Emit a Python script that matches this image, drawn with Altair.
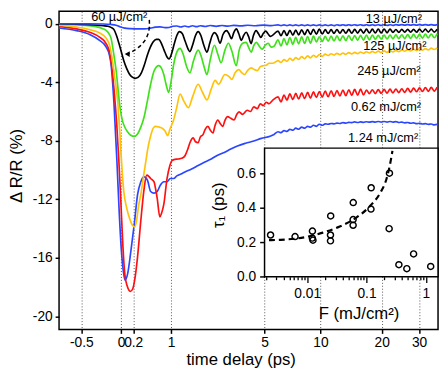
import math
import altair as alt
import pandas as pd

# ---------------- main panel: time delay (ps) and dR/R (%) ----------------
# early part of each trace
BLUE1_T = [-0.703, -0.249, -0.144, -0.075, -0.017, 0.060, 0.157, 0.277, 0.406, 0.525, 0.629, 0.738, 0.853, 0.950,
           1.050, 1.154, 1.263, 1.376, 1.493, 1.616, 1.744, 1.876, 2.050, 2.232, 2.464, 2.710, 2.971, 3.248,
           3.593, 3.964, 4.421, 4.915, 5.451]
BLUE1_V = [0, -0.013, -0.047, -0.1, -0.2, -0.3, -0.333, -0.347, -0.347, -0.3, -0.233, -0.213, -0.267, -0.253,
           -0.167, -0.153, -0.22, -0.153, -0.213, -0.133, -0.2, -0.133, -0.187, -0.12, -0.173, -0.12, -0.16, -0.107,
           -0.147, -0.1, -0.133, -0.093, -0.127]

BLACK_T = [-0.703, -0.413, -0.249, -0.185, -0.144, -0.103, -0.067, -0.031, 0.006, 0.044, 0.091, 0.140, 0.190, 0.233,
           0.286, 0.350, 0.406, 0.465, 0.525, 0.586, 0.650, 0.705, 0.761, 0.830, 0.901, 0.950, 1.012, 1.089, 1.154,
           1.227, 1.305, 1.390, 1.478, 1.533, 1.616, 1.711, 1.799, 1.893, 1.997, 2.111, 2.214, 2.308, 2.397, 2.504,
           2.626, 2.752, 2.913, 3.016, 3.140, 3.248, 3.379, 3.493, 3.630, 3.749, 3.893, 4.019, 4.170, 4.303, 4.462,
           4.602, 4.756, 4.915, 5.078, 5.245, 5.416]
BLACK_V = [0, -0.067, -0.133, -0.167, -0.247, -0.4, -0.8, -1.333, -1.933, -2.533, -3.067, -3.467, -3.667, -3.733,
           -3.667, -3.333, -2.8, -2.133, -1.6, -1.233, -1.067, -1.067, -1.3, -1.8, -2.267, -2.4, -2.067, -1.333, -0.8,
           -0.533, -0.667, -1.2, -1.733, -1.9, -1.467, -0.8, -0.533, -0.8, -1.467, -1.933, -1.333, -0.8, -0.6, -0.8,
           -1.333, -0.733, -0.467, -0.667, -1.02, -0.6, -0.353, -0.667, -1.133, -0.8, -0.58, -0.867, -1.353, -0.8,
           -0.467, -0.667, -0.933, -0.667, -0.5, -0.7, -0.867]

GREEN_T = [-0.703, -0.546, -0.372, -0.253, -0.189, -0.144, -0.113, -0.071, -0.021, 0.014, 0.055, 0.107, 0.157, 0.219,
           0.277, 0.337, 0.401, 0.465, 0.531, 0.607, 0.709, 0.761, 0.823, 0.877, 0.942, 0.999, 1.068, 1.154, 1.243,
           1.319, 1.434, 1.533, 1.647, 1.799, 1.911, 2.015, 2.111, 2.232, 2.397, 2.544, 2.668, 2.839, 2.994, 3.154,
           3.369, 3.518, 3.697, 3.893, 4.019, 4.170, 4.332, 4.480, 4.663, 4.851, 5.045, 5.245, 5.451, 5.663]
GREEN_V = [-0.013, -0.08, -0.167, -0.333, -0.567, -1.0, -1.867, -3.247, -5.467, -6.467, -7.02, -7.4, -7.62, -7.7,
           -7.533, -7.067, -6.353, -5.267, -4.133, -3.2, -2.867, -3.0, -3.467, -4.133, -4.687, -4.0, -2.8, -1.933,
           -1.687, -2.0, -2.933, -3.353, -2.533, -1.8, -2.267, -3.0, -3.467, -2.467, -1.467, -2.133, -2.667, -1.8,
           -1.333, -1.867, -2.867, -1.8, -1.333, -1.267, -1.6, -1.933, -1.467, -1.267, -1.533, -1.733, -1.467,
           -1.333, -1.6, -1.533]

YELLOW_T = [-0.703, -0.546, -0.410, -0.295, -0.211, -0.158, -0.131, -0.089, -0.046, -0.017, 0.014, 0.044, 0.091,
            0.140, 0.190, 0.224, 0.259, 0.295, 0.337, 0.387, 0.431, 0.484, 0.531, 0.586, 0.635, 0.716, 0.783, 0.853,
            0.918, 0.974, 1.068, 1.154, 1.243, 1.347, 1.485, 1.616, 1.799, 1.945, 2.111, 2.270, 2.425, 2.565, 2.839,
            3.016, 3.154, 3.320, 3.493, 3.645, 3.802, 3.964, 4.170, 4.361, 4.541, 4.725, 4.915, 5.111, 5.313, 5.592]
YELLOW_V = [-0.087, -0.22, -0.4, -0.62, -0.98, -1.58, -2.333, -3.8, -5.467, -7.467, -9.8, -11.467, -12.6, -13.333,
            -13.8, -13.9, -13.467, -12.467, -11.667, -10.467, -9.467, -8.333, -7.667, -7.133, -7.02, -7.067, -7.133,
            -7.333, -7.647, -7.2, -6.58, -5.687, -4.8, -5.267, -5.733, -5.0, -4.133, -4.667, -5.2, -4.467, -3.867,
            -4.133, -3.467, -3.6, -3.8, -3.333, -3.133, -3.333, -3.467, -3.2, -3.02, -3.133, -3.2, -2.933, -2.867,
            -2.833, -2.7, -2.7]

RED_T = [-0.703, -0.546, -0.410, -0.295, -0.211, -0.167, -0.144, -0.103, -0.060, -0.031, -0.002, 0.029, 0.060, 0.099,
         0.152, 0.190, 0.233, 0.277, 0.337, 0.401, 0.451, 0.494, 0.531, 0.601, 0.639, 0.672, 0.731, 0.772, 0.823,
         0.901, 0.974, 1.024, 1.101, 1.200, 1.291, 1.385, 1.464, 1.533, 1.638, 1.711, 1.799, 1.876, 1.969, 2.050,
         2.148, 2.232, 2.335, 2.425, 2.532, 2.626, 2.740, 2.839, 2.958, 3.107, 3.263, 3.393, 3.508, 3.697, 3.947,
         4.131, 4.321, 4.541, 4.725, 4.915, 5.111, 5.313, 5.592]
RED_V = [-0.18, -0.353, -0.58, -0.913, -1.353, -1.913, -2.58, -4.467, -7.133, -9.467, -12.133, -15.133, -17.133,
         -17.933, -18.3, -18.133, -17.333, -15.933, -13.467, -11.247, -10.353, -10.433, -10.58, -10.8, -11.333,
         -11.933, -13.2, -12.933, -12.353, -10.58, -9.667, -9.353, -9.267, -9.247, -9.2, -9.02, -8.6, -8.133, -7.8,
         -8.067, -8.133, -7.733, -7.58, -7.2, -7.02, -7.267, -7.467, -6.933, -6.58, -6.8, -7.02, -6.6, -6.353,
         -6.467, -6.58, -6.2, -6.02, -6.2, -5.913, -6.0, -5.687, -5.8, -5.467, -5.6, -5.367, -5.467, -5.2]

BLUE2_T = [-0.703, -0.546, -0.410, -0.295, -0.211, -0.167, -0.144, -0.103, -0.060, -0.024, 0.006, 0.037, 0.065,
           0.107, 0.162, 0.219, 0.277, 0.337, 0.401, 0.465, 0.531, 0.601, 0.672, 0.745, 0.823, 0.901, 0.982, 1.068,
           1.154, 1.291, 1.385, 1.585, 1.799, 2.015, 2.270, 2.504, 2.808, 3.107, 3.428, 3.856, 4.321, 4.788, 5.382,
           5.663]
BLUE2_V = [-0.287, -0.467, -0.733, -1.133, -1.58, -2.133, -2.8, -5.467, -9.467, -13.133, -15.467, -16.933, -17.533,
           -17.067, -15.467, -13.687, -11.687, -10.8, -10.467, -10.687, -11.467, -11.58, -11.467, -11.02, -10.8,
           -10.8, -10.58, -10.58, -10.4, -10.247, -10.133, -9.933, -9.687, -9.467, -9.247, -9.0, -8.8, -8.567,
           -8.353, -8.167, -8.02, -7.833, -7.687, -7.567]

# late part (t > 6 ps): shared time samples, values with the fast oscillation
T_LATE = [5.96, 6.19, 6.43, 6.67, 6.92, 7.18, 7.44, 7.71, 8.0, 8.29, 8.59, 8.89, 9.21, 9.54, 9.87, 10.22, 10.58,
          10.95, 11.33, 11.72, 12.12, 12.54, 12.97, 13.41, 13.87, 14.34, 14.82, 15.32, 15.83, 16.36, 16.91, 17.47,
          18.05, 18.65, 19.26, 19.9, 20.55, 21.22, 21.92, 22.63, 23.37, 24.13, 24.91, 25.72, 26.55, 27.41, 28.29,
          29.2, 30.14, 31.1, 32.1, 33.13, 34.18, 35.27, 36.4]
BLUE1_LATE = [-0.075, -0.125, -0.075, -0.125, -0.075, -0.125, -0.075, -0.125, -0.075, -0.125,
              -0.075, -0.125, -0.075, -0.125, -0.075, -0.125, -0.075, -0.125, -0.075, -0.125,
              -0.065, -0.115, -0.065, -0.115, -0.065, -0.115, -0.065, -0.115, -0.065, -0.115,
              -0.065, -0.115, -0.065, -0.115, -0.065, -0.115, -0.065, -0.115, -0.065, -0.115,
              -0.055, -0.095, -0.055, -0.095, -0.055, -0.095, -0.055, -0.095, -0.055, -0.095,
              -0.055, -0.095, -0.055, -0.095, -0.055]
BLACK_LATE = [-0.50, -0.82, -0.47, -0.80, -0.45, -0.78, -0.43, -0.76, -0.41, -0.74,
              -0.40, -0.73, -0.38, -0.71, -0.37, -0.70, -0.40, -0.66, -0.40, -0.66,
              -0.39, -0.65, -0.39, -0.65, -0.38, -0.65, -0.38, -0.64, -0.38, -0.64,
              -0.37, -0.63, -0.37, -0.63, -0.36, -0.63, -0.36, -0.62, -0.36, -0.59,
              -0.39, -0.59, -0.38, -0.58, -0.38, -0.58, -0.38, -0.58, -0.37, -0.57,
              -0.37, -0.57, -0.37, -0.57, -0.37]
GREEN_LATE = [-1.10, -1.52, -1.02, -1.44, -0.95, -1.40, -0.93, -1.37, -0.90, -1.34,
              -0.87, -1.32, -0.85, -1.24, -0.89, -1.21, -0.86, -1.19, -0.85, -1.18,
              -0.83, -1.16, -0.82, -1.15, -0.81, -1.14, -0.80, -1.13, -0.79, -1.12,
              -0.78, -1.11, -0.77, -1.06, -0.79, -1.05, -0.78, -1.04, -0.77, -1.03,
              -0.76, -1.02, -0.75, -1.01, -0.74, -1.0, -0.73, -0.99, -0.72, -0.98,
              -0.71, -0.97, -0.70, -0.95, -0.67]
YELLOW_LATE = [-2.52, -2.645, -2.45, -2.57, -2.37, -2.50, -2.31, -2.44, -2.25, -2.39,
               -2.20, -2.33, -2.15, -2.28, -2.10, -2.23, -2.08, -2.17, -2.05, -2.14,
               -2.02, -2.11, -2.0, -2.09, -1.97, -2.06, -1.95, -2.04, -1.93, -2.02,
               -1.91, -2.0, -1.89, -1.98, -1.87, -1.97, -1.85, -1.95, -1.84, -1.93,
               -1.82, -1.91, -1.79, -1.88, -1.77, -1.86, -1.74, -1.83, -1.72, -1.81,
               -1.70, -1.79, -1.67, -1.76, -1.65]
RED_LATE = [-5.0, -5.34, -4.88, -5.22, -4.79, -5.18, -4.76, -5.14, -4.73, -5.11,
            -4.69, -5.08, -4.66, -5.04, -4.63, -5.01, -4.60, -4.99, -4.58, -4.97,
            -4.56, -4.94, -4.53, -4.92, -4.51, -4.89, -4.49, -4.88, -4.47, -4.87,
            -4.53, -4.78, -4.51, -4.77, -4.50, -4.76, -4.49, -4.74, -4.47, -4.73,
            -4.46, -4.71, -4.44, -4.69, -4.42, -4.67, -4.40, -4.65, -4.38, -4.63,
            -4.36, -4.62, -4.35, -4.60, -4.33]
BLUE2_LATE = [-7.38, -7.44, -7.30, -7.36, -7.22, -7.28, -7.14, -7.21, -7.07, -7.14,
              -7.01, -7.07, -6.94, -7.01, -6.87, -6.94, -6.84, -6.87, -6.82, -6.84,
              -6.79, -6.82, -6.76, -6.79, -6.74, -6.76, -6.71, -6.75, -6.71, -6.74,
              -6.70, -6.73, -6.69, -6.72, -6.68, -6.72, -6.68, -6.72, -6.68, -6.72,
              -6.69, -6.75, -6.72, -6.77, -6.75, -6.80, -6.77, -6.83, -6.80, -6.85,
              -6.83, -6.88, -6.85, -6.91, -6.88]

# curve labels
LABEL_TEXT = ["13 µJ/cm²", "125 µJ/cm²", "245 µJ/cm²", "0.62 mJ/cm²", "1.24 mJ/cm²"]
LABEL_T = [22.85, 23.09, 21.66, 20.97, 20.31]
LABEL_V = [0.353, -1.513, -3.247, -5.687, -7.8]
NOTE_TEXT = ["60 µJ/cm²"]
NOTE_T = [-0.394]
NOTE_V = [0.45]
ARROW_T = [0.504, 0.510, 0.474, 0.397, 0.295, 0.190, 0.124]
ARROW_V = [0.267, -0.267, -0.8, -1.267, -1.633, -1.9, -2.033]
HEAD_T = [0.099]
HEAD_V = [-2.07]

# ---------------- inset: tau_1 vs fluence ----------------
F_PTS = [0.00241, 0.00624, 0.01225, 0.0122, 0.0125, 0.0249, 0.0247, 0.0247, 0.0598, 0.0595, 0.0595, 0.120,
         0.119, 0.244, 0.241, 0.352, 0.479, 0.623, 1.21]
TAU_PTS = [0.243, 0.234, 0.266, 0.225, 0.213, 0.354, 0.243, 0.209, 0.432, 0.333, 0.30, 0.518, 0.394, 0.603,
           0.28, 0.07, 0.047, 0.133, 0.06]
FIT_F = [0.00227, 0.00352, 0.00973, 0.01835, 0.0346, 0.0653, 0.1156, 0.169, 0.218, 0.247, 0.274]
FIT_TAU = [0.213, 0.215, 0.232, 0.257, 0.291, 0.341, 0.413, 0.486, 0.571, 0.647, 0.733]
F_DOMAIN = [0.001908, 1.61]
TAU_DOMAIN = [0.0, 0.749]
F_TICKS = [round(m * 10.0 ** e, 6) for e in (-3, -2, -1) for m in range(1, 10)][1:] + [1.0]
TAU_TICKS = [0, 0.2, 0.4, 0.6]

# ---------------- scales / axes ----------------
FONT = "Liberation Sans"
T_RANGE = [-0.703, 36.74]
U_DOMAIN = [math.log10(t + 1.5) for t in T_RANGE]
X_TICKS_T = [-0.5, 0, 0.2, 1, 5, 10, 20, 30]
X_TICKS_U = [math.log10(t + 1.5) for t in X_TICKS_T]
Y_TICKS = [0, -4, -8, -12, -16, -20]
Y_DOMAIN = [-20.9, 0.85]
U_EXPR = "log(datum.t + 1.5) / LN10"

W, H = 386, 324

x_main = alt.X("u:Q", scale=alt.Scale(domain=U_DOMAIN, nice=False, zero=False),
               axis=alt.Axis(values=X_TICKS_U,
                             labelExpr="toString(round((pow(10, datum.value) - 1.5) * 10) / 10)",
                             grid=True, gridDash=[1, 2], gridColor="#555555", gridWidth=1,
                             domain=False, tickSize=4, tickWidth=1.5, labelFontSize=14, labelPadding=2,
                             labelOverlap=False, labelFlush=False,
                             title="time delay (ps)", titleFontSize=17, titleX=185, titleY=31,
                             titleBaseline="middle"))
y_main = alt.Y("v:Q", scale=alt.Scale(domain=Y_DOMAIN, nice=False, zero=False),
               axis=alt.Axis(values=Y_TICKS, labelExpr="toString(datum.value)", grid=False, domain=False,
                             tickSize=4, tickWidth=1.5, labelFontSize=14, labelPadding=3,
                             title="Δ R/R (%)", titleFontSize=17, titleX=-43.5, titleY=157,
                             titleBaseline="middle"))

CURVES = [
    ("#2b46ff", BLUE2_T, BLUE2_V, BLUE2_LATE),
    ("#ff1010", RED_T, RED_V, RED_LATE),
    ("#ffc20a", YELLOW_T, YELLOW_V, YELLOW_LATE),
    ("#3fe11a", GREEN_T, GREEN_V, GREEN_LATE),
    ("#000000", BLACK_T, BLACK_V, BLACK_LATE),
    ("#2b46ff", BLUE1_T, BLUE1_V, BLUE1_LATE),
]

main_layers = []
for color, te, ve, vl in CURVES:
    assert len(te) == len(ve) and len(vl) == len(T_LATE)
    df = pd.DataFrame({"t": te + T_LATE, "v": ve + vl})
    main_layers.append(
        alt.Chart(df).transform_calculate(u=U_EXPR)
        .mark_line(color=color, strokeWidth=1.7, interpolate="monotone")
        .encode(x=x_main, y=y_main)
    )

arrow = (alt.Chart(pd.DataFrame({"t": ARROW_T, "v": ARROW_V, "i": list(range(len(ARROW_T)))}))
         .transform_calculate(u=U_EXPR)
         .mark_line(color="black", strokeWidth=1.5, strokeDash=[4, 3], interpolate="basis")
         .encode(x=x_main, y=y_main, order="i:Q"))
head = (alt.Chart(pd.DataFrame({"t": HEAD_T, "v": HEAD_V}))
        .transform_calculate(u=U_EXPR)
        .mark_point(shape="triangle-left", filled=True, size=34, color="black", opacity=1)
        .encode(x=x_main, y=y_main))
labels = (alt.Chart(pd.DataFrame({"t": LABEL_T, "v": LABEL_V, "s": LABEL_TEXT}))
          .transform_calculate(u=U_EXPR)
          .mark_text(align="center", baseline="middle", fontSize=13, font=FONT, color="black")
          .encode(x=x_main, y=y_main, text="s:N"))
note = (alt.Chart(pd.DataFrame({"t": NOTE_T, "v": NOTE_V, "s": NOTE_TEXT}))
        .transform_calculate(u=U_EXPR)
        .mark_text(align="left", baseline="middle", fontSize=13, font=FONT, color="black")
        .encode(x=x_main, y=y_main, text="s:N"))
main = alt.layer(*main_layers, arrow, head, labels, note)

# inset placed inside the plot area through its own scale ranges
IN_X0, IN_X1 = 209.3, 386.0
IN_Y0, IN_Y1 = 270.3, 139.3
major = "indexof([0.01, 0.1, 1], datum.value) >= 0"
x_in = alt.X("F:Q", scale=alt.Scale(type="log", domain=F_DOMAIN, range=[IN_X0, IN_X1], nice=False),
             axis=alt.Axis(orient="bottom", offset=-(H - IN_Y0), values=F_TICKS,
                           labelExpr="datum.value == 0.01 ? '0.01' : datum.value == 0.1 ? '0.1' : datum.value == 1 ? '1' : ''",
                           tickSize={"condition": {"test": major, "value": 6}, "value": 3},
                           tickWidth=1.3, domain=False, grid=False, labelFontSize=14, labelPadding=4,
                           labelOverlap=False, labelFlush=False,
                           title="F (mJ/cm²)", titleFontSize=17, titleX=305, titleY=38,
                           titleBaseline="middle"))
y_in = alt.Y("tau:Q", scale=alt.Scale(domain=TAU_DOMAIN, range=[IN_Y0, IN_Y1], nice=False, zero=False),
             axis=alt.Axis(orient="left", offset=-IN_X0, values=TAU_TICKS, tickSize=5, tickWidth=1.5,
                           domain=False, grid=False, labelFontSize=14, labelPadding=4,
                           title="τ₁ (ps)", titleFontSize=17, titleX=-47, titleY=197,
                           titleBaseline="middle"))

box = (alt.Chart(pd.DataFrame({"F": [F_DOMAIN[0]], "F2": [F_DOMAIN[1]],
                               "tau": [TAU_DOMAIN[0]], "tau2": [TAU_DOMAIN[1]]}))
       .mark_rect(fill="white", stroke="black", strokeWidth=1.5)
       .encode(x=x_in, x2="F2:Q", y=y_in, y2="tau2:Q"))
fit = (alt.Chart(pd.DataFrame({"F": FIT_F, "tau": FIT_TAU, "i": list(range(len(FIT_F)))}))
       .mark_line(color="black", strokeWidth=2.2, strokeDash=[6, 4], interpolate="monotone")
       .encode(x=x_in, y=y_in, order="i:Q"))
pts = (alt.Chart(pd.DataFrame({"F": F_PTS, "tau": TAU_PTS}))
       .mark_point(shape="circle", filled=False, size=38, strokeWidth=1.5, color="black", opacity=1)
       .encode(x=x_in, y=y_in))
inset = alt.layer(box, fit, pts)

chart = (alt.layer(main, inset)
         .resolve_scale(x="independent", y="independent")
         .properties(width=W, height=H, autosize=alt.AutoSizeParams(type="none"),
                     padding={"left": 52, "top": 0, "right": 2, "bottom": 44})
         .configure_view(stroke="black", strokeWidth=1.5)
         .configure_axis(labelFont=FONT, titleFont=FONT, labelColor="black", titleColor="black",
                         tickColor="black", titleFontWeight="normal"))

chart.save("out.html", embed_options={"renderer": "svg", "actions": False})
